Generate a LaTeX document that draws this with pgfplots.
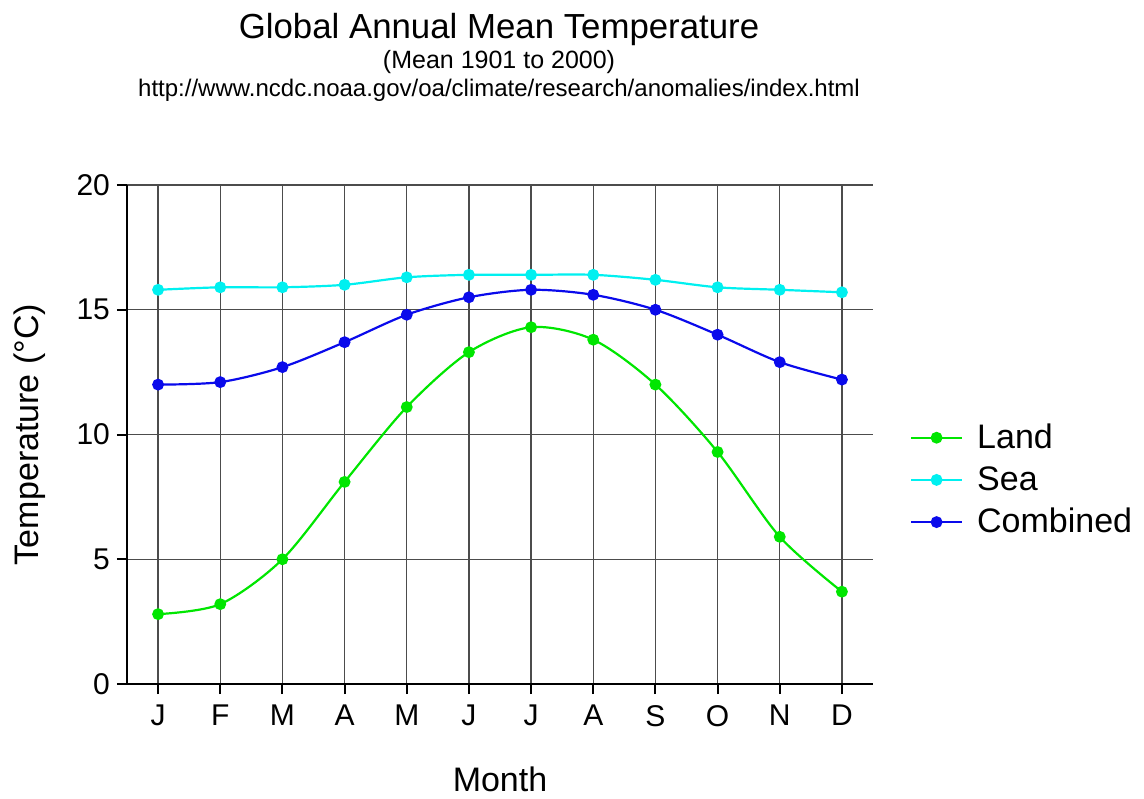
\documentclass[border=0pt]{standalone}
\usepackage{fontspec}
\setmainfont{Liberation Sans}
\usepackage{pgfplots}
\pgfplotsset{compat=1.18}

\definecolor{landc}{RGB}{0,230,0}
\definecolor{seac}{RGB}{0,240,240}
\definecolor{combc}{RGB}{10,10,235}

\begin{document}
\begin{tikzpicture}
\begin{axis}[
  at={(0,0)}, anchor=south west,
  scale only axis, width=373pt, height=249.5pt,
  xmin=0.5, xmax=12.5, ymin=0, ymax=20,
  axis x line=bottom, axis y line=left,
  axis line style={-, line width=1pt, black},
  xtick={1,...,12}, xticklabels={J,F,M,A,M,J,J,A,S,O,N,D},
  ytick={0,5,10,15,20},
  tick align=outside, major tick length=5pt,
  tick style={black, line width=1pt},
  grid=major, grid style={black!70, line width=0.7pt},
  /pgf/number format/assume math mode=true,
  ticklabel style={font=\fontsize{15}{18}\selectfont},
  xticklabel style={yshift=-2pt},
  xlabel={Month}, ylabel={Temperature (°C)},
  label style={font=\fontsize{17}{20}\selectfont},
  xlabel style={at={(rel axis cs:0.5,-0.2150)}, anchor=base},
  ylabel style={at={(rel axis cs:-0.1193,0.5)}, anchor=base},
  legend style={at={(1.041,0.409)}, anchor=west, draw=none, fill=none,
    font=\fontsize{17}{20}\selectfont, legend cell align=left,
    row sep=3.5pt},
  legend image code/.code={\draw[mark repeat=2,mark phase=2,#1]
    plot coordinates {(0pt,0pt)(12.75pt,0pt)(25.5pt,0pt)};
    \path (30.5pt,0pt);},
  every axis plot/.append style={line width=1.1pt, smooth,
    mark=*, mark size=2.4pt, mark options={solid}},
  clip=false,
]
% Land surface, monthly means (deg C)
\addplot[color=landc] coordinates {
  (1,2.8) (2,3.2) (3,5.0) (4,8.1) (5,11.1) (6,13.3)
  (7,14.3) (8,13.8) (9,12.0) (10,9.3) (11,5.9) (12,3.7)};
\addlegendentry{Land}
% Sea surface
\addplot[color=seac] coordinates {
  (1,15.8) (2,15.9) (3,15.9) (4,16.0) (5,16.3) (6,16.4)
  (7,16.4) (8,16.4) (9,16.2) (10,15.9) (11,15.8) (12,15.7)};
\addlegendentry{Sea}
% Land and sea combined
\addplot[color=combc] coordinates {
  (1,12.0) (2,12.1) (3,12.7) (4,13.7) (5,14.8) (6,15.5)
  (7,15.8) (8,15.6) (9,15.0) (10,14.0) (11,12.9) (12,12.2)};
\addlegendentry{Combined}

\node[font=\fontsize{17.4}{20}\selectfont, anchor=base]
  at (rel axis cs:0.4987,1.2926) {Global Annual Mean Temperature};
\node[font=\fontsize{12.5}{14}\selectfont, anchor=base]
  at (rel axis cs:0.4987,1.2325) {(Mean 1901 to 2000)};
\node[font=\fontsize{12}{14}\selectfont, anchor=base]
  at (rel axis cs:0.4987,1.1764) {http://www.ncdc.noaa.gov/oa/climate/research/anomalies/index.html};

\coordinate (bbsw) at (rel axis cs:-0.17024,-0.22846);
\coordinate (bbne) at (rel axis cs:1.36327,1.37074);
\end{axis}
\pgfresetboundingbox
\path[use as bounding box] (bbsw) rectangle (bbne);
\end{tikzpicture}
\end{document}
